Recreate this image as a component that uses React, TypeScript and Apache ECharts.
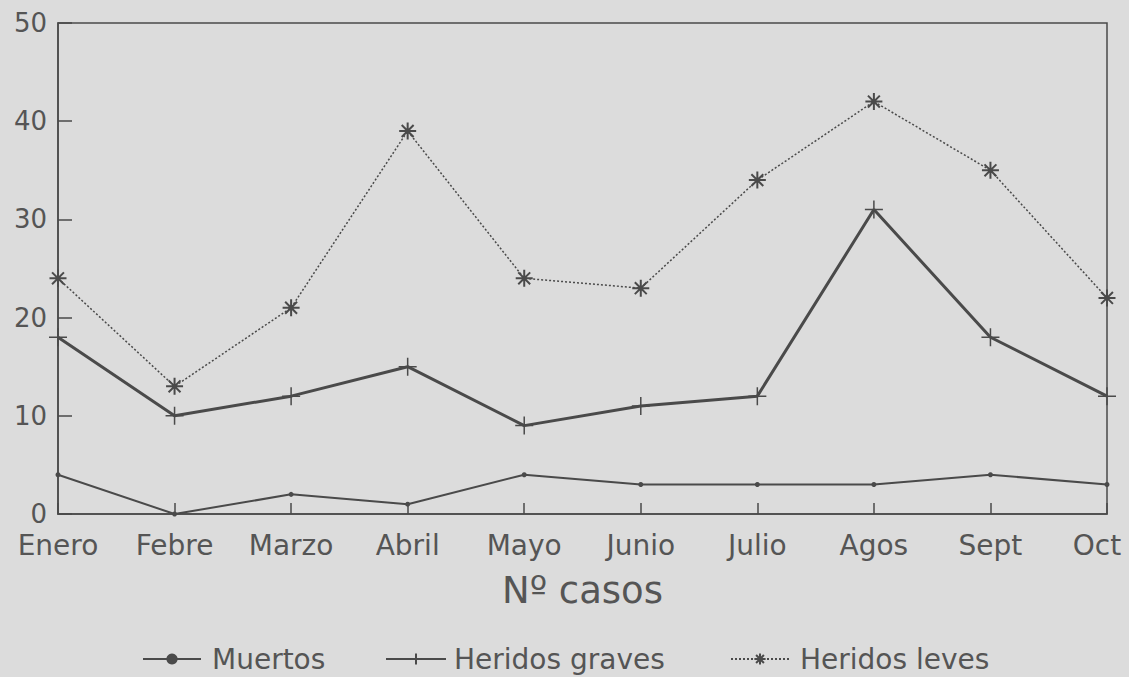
import React, { useEffect, useRef } from "react";
import * as echarts from "echarts";

const months = ["Enero", "Febre", "Marzo", "Abril", "Mayo", "Junio", "Julio", "Agos", "Sept", "Oct"];
const muertos = [4, 0, 2, 1, 4, 3, 3, 3, 4, 3];
const heridosGraves = [18, 10, 12, 15, 9, 11, 12, 31, 18, 12];
const heridosLeves = [24, 13, 21, 39, 24, 23, 34, 42, 35, 22];
const seriesNames = ["Muertos", "Heridos graves", "Heridos leves"];
const axisName = "Nº casos";

const INK = "#4a4a4a";
const TEXT = "#555555";
const FONT = "DejaVu Sans";

const plusPath = "path://M5,0L5,10M0,5L10,5";
const starPath = "path://M5,0L5,10M0,5L10,5M1.5,1.5L8.5,8.5M8.5,1.5L1.5,8.5";

export default function App() {
  const ref = useRef<HTMLDivElement>(null);
  useEffect(() => {
    if (!ref.current) return;
    const chart = echarts.init(ref.current, null, { renderer: "svg" });
    const categoryData = months.map((m, i) =>
      i === months.length - 1
        ? { value: m, textStyle: { padding: [0, 20, 0, 0] } }
        : m
    );
    chart.setOption({
      animation: false,
      backgroundColor: "#dcdcdc",
      textStyle: { fontFamily: FONT },
      grid: {
        left: 58,
        right: 22,
        top: 23,
        bottom: 163,
        show: true,
        borderColor: INK,
        borderWidth: 1.5,
        containLabel: false,
        outerBoundsMode: "none",
      },
      legend: [
        {
          data: [seriesNames[0]],
          left: 137,
          top: 640,
          itemWidth: 58,
          itemHeight: 14,
          textStyle: { fontSize: 28, color: TEXT, fontFamily: FONT, padding: [0, 0, 0, 6] },
        },
        {
          data: [seriesNames[1]],
          left: 380,
          top: 640,
          itemWidth: 60,
          itemHeight: 14,
          textStyle: { fontSize: 28, color: TEXT, fontFamily: FONT, padding: [0, 0, 0, 3] },
        },
        {
          data: [seriesNames[2]],
          left: 725,
          top: 640,
          itemWidth: 58,
          itemHeight: 14,
          textStyle: { fontSize: 28, color: TEXT, fontFamily: FONT, padding: [0, 0, 0, 6] },
        },
      ],
      xAxis: {
        type: "category",
        data: categoryData,
        boundaryGap: false,
        name: axisName,
        nameLocation: "middle",
        nameGap: 58,
        nameTextStyle: { fontSize: 37, color: TEXT, fontFamily: FONT },
        axisLine: { show: true, lineStyle: { color: INK, width: 1.5 } },
        axisTick: { show: true, inside: true, length: 11, lineStyle: { color: INK, width: 1.5 } },
        axisLabel: { fontSize: 28, color: TEXT, fontFamily: FONT, margin: 17, interval: 0 },
        splitLine: { show: false },
      },
      yAxis: {
        type: "value",
        min: 0,
        max: 50,
        interval: 10,
        axisLine: { show: true, lineStyle: { color: INK, width: 1.5 } },
        axisTick: { show: true, inside: true, length: 14, lineStyle: { color: INK, width: 1.5 } },
        axisLabel: { fontSize: 26, color: TEXT, fontFamily: FONT, margin: 11 },
        splitLine: { show: false },
      },
      series: [
        {
          name: seriesNames[0],
          type: "line",
          data: muertos,
          symbol: "circle",
          symbolSize: 5,
          lineStyle: { color: INK, width: 2 },
          itemStyle: { color: INK },
        },
        {
          name: seriesNames[1],
          type: "line",
          data: heridosGraves,
          symbol: plusPath,
          symbolSize: 18,
          lineStyle: { color: INK, width: 3 },
          itemStyle: { color: INK, borderColor: INK, borderWidth: 1.5 },
        },
        {
          name: seriesNames[2],
          type: "line",
          data: heridosLeves,
          symbol: starPath,
          symbolSize: 17,
          lineStyle: { color: INK, width: 1.5, type: [2, 2] },
          itemStyle: { color: INK, borderColor: INK, borderWidth: 2 },
        },
      ],
    });
    return () => chart.dispose();
  }, []);
  return (
    <div
      ref={ref}
      style={{ position: "fixed", left: 0, top: 0, width: 1129, height: 677 }}
    />
  );
}
